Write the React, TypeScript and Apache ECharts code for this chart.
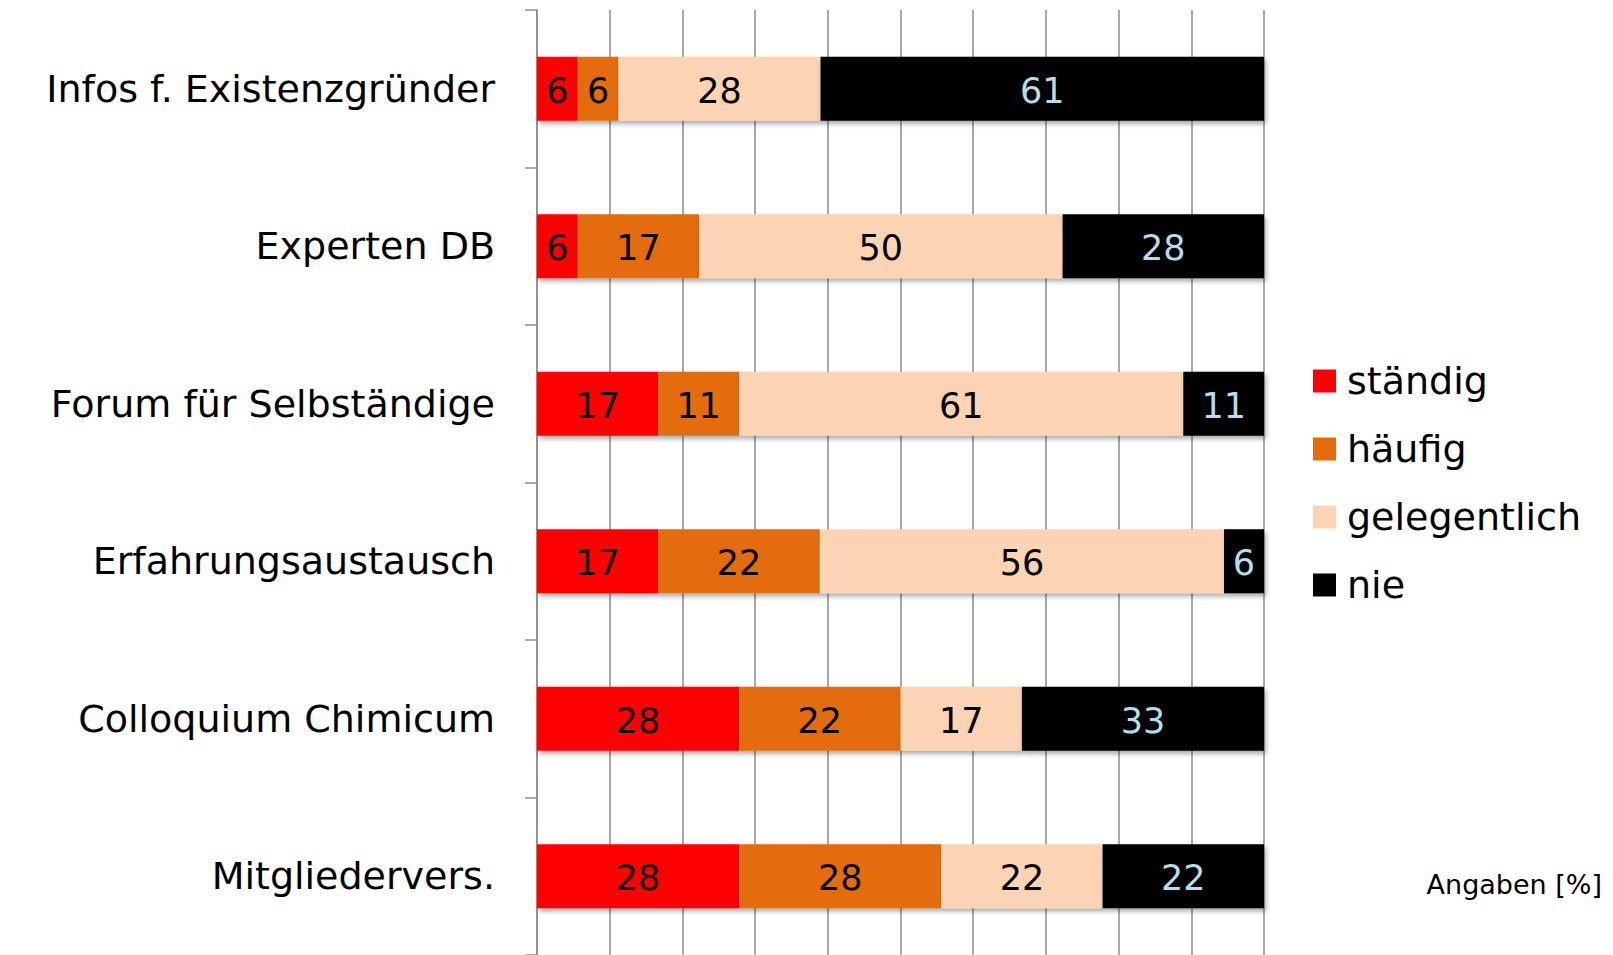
import React, { useEffect, useRef } from "react";
import * as echarts from "echarts";

const categories = [
  "Infos f. Existenzgründer",
  "Experten DB",
  "Forum für Selbständige",
  "Erfahrungsaustausch",
  "Colloquium Chimicum",
  "Mitgliedervers.",
];
const seriesNames = ["ständig", "häufig", "gelegentlich", "nie"];
const staendig = [5.6, 5.6, 16.7, 16.7, 27.8, 27.8];
const haeufig = [5.6, 16.7, 11.1, 22.2, 22.2, 27.8];
const gelegentlich = [27.8, 50.0, 61.1, 55.6, 16.7, 22.2];
const nie = [61.1, 27.8, 11.1, 5.6, 33.3, 22.2];
const colors = ["#FF0000", "#E36C0A", "#FBD4B4", "#000000"];
const labelColors = ["#000000", "#000000", "#000000", "#B6DDE8"];
const FONT = "DejaVu Sans";

export default function App() {
  const ref = useRef<HTMLDivElement>(null);
  useEffect(() => {
    if (!ref.current) return;
    const chart = echarts.init(ref.current, null, { renderer: "svg" });
    const data = [staendig, haeufig, gelegentlich, nie];
    chart.setOption({
      animation: false,
      backgroundColor: "#ffffff",
      textStyle: { fontFamily: FONT },
      grid: { left: 537, right: 349, top: 10, bottom: -4, containLabel: false },
      legend: {
        orient: "vertical",
        left: 1308,
        top: 356,
        itemWidth: 23,
        itemHeight: 23,
        itemGap: 28,
        icon: "rect",
        data: seriesNames,
        textStyle: { fontFamily: FONT, fontSize: 38, color: "#000", lineHeight: 40, padding: [0, 0, 0, 6] },
      },
      xAxis: {
        type: "value",
        min: 0,
        max: 100,
        interval: 10,
        axisLabel: { show: false },
        axisLine: { show: false },
        axisTick: { show: false },
        splitLine: { show: true, lineStyle: { color: "#8c8c8c", width: 1.5 } },
      },
      yAxis: {
        type: "category",
        inverse: true,
        data: categories,
        axisLine: { show: true, lineStyle: { color: "#8c8c8c", width: 1.5 } },
        axisTick: { show: true, length: 12, alignWithLabel: false, lineStyle: { color: "#8c8c8c", width: 1.5 } },
        axisLabel: { margin: 42, fontFamily: FONT, fontSize: 38, color: "#000" },
      },
      graphic: [
        {
          type: "text",
          right: 11,
          top: 871,
          style: { text: "Angaben [%]", fontFamily: FONT, fontSize: 27, fill: "#000" },
        },
      ],
      series: seriesNames.map((name, i) => ({
        name,
        type: "bar",
        stack: "total",
        barWidth: 64,
        data: data[i],
        itemStyle: {
          color: colors[i],
          shadowColor: "rgba(0,0,0,0.35)",
          shadowBlur: 5,
          shadowOffsetX: 2,
          shadowOffsetY: 3,
        },
        label: {
          show: true,
          position: "inside",
          offset: [0, 2],
          fontFamily: FONT,
          fontSize: 35,
          color: labelColors[i],
          formatter: (p: any) => String(Math.round(p.value)),
        },
      })),
    });
    return () => chart.dispose();
  }, []);
  return (
    <div
      ref={ref}
      style={{ position: "fixed", left: 0, top: 0, width: 1613, height: 955 }}
    />
  );
}
